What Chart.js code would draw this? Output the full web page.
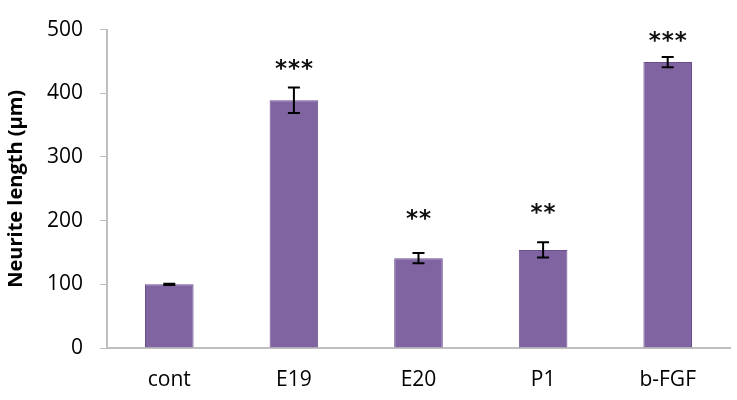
<!DOCTYPE html>
<html>
<head>
<meta charset="utf-8">
<script src="https://cdn.jsdelivr.net/npm/chart.js@4"></script>
<style>
  html, body { margin: 0; padding: 0; background: #fff; }
  #wrap { width: 737px; height: 400px; }
</style>
</head>
<body>
<div id="wrap"><canvas id="grafico"></canvas></div>
<script>
// Dados
const categorias = ["cont", "E19", "E20", "P1", "b-FGF"];
const comprimento = [100, 389, 141, 154, 449];
const erro = [1, 20, 8, 12, 8];
const asteriscos = ["", "***", "**", "**", "***"];
const alturaAsterisco = [0, 443, 207, 216, 486];
const ticksY = [0, 100, 200, 300, 400, 500];

// Barras de erro e asteriscos
const extrasPlugin = {
  id: "extras",
  afterDatasetsDraw(chart) {
    const ctx = chart.ctx;
    const x = chart.scales.x;
    const y = chart.scales.y;
    ctx.save();
    ctx.strokeStyle = "#000";
    ctx.lineWidth = 2;
    comprimento.forEach((v, i) => {
      const cx = x.getPixelForValue(i);
      const top = y.getPixelForValue(v + erro[i]);
      const bot = y.getPixelForValue(v - erro[i]);
      ctx.beginPath();
      ctx.moveTo(cx, top);
      ctx.lineTo(cx, bot);
      ctx.moveTo(cx - 6, top);
      ctx.lineTo(cx + 6, top);
      ctx.moveTo(cx - 6, bot);
      ctx.lineTo(cx + 6, bot);
      ctx.stroke();
    });
    ctx.fillStyle = "#111";
    ctx.font = "bold 23px 'DejaVu Sans'";
    ctx.textAlign = "center";
    ctx.textBaseline = "middle";
    asteriscos.forEach((s, i) => {
      if (!s) return;
      const cx = x.getPixelForValue(i);
      const cy = y.getPixelForValue(alturaAsterisco[i]) + 4;
      const n = s.length;
      for (let k = 0; k < n; k++) {
        ctx.fillText("*", cx + (k - (n - 1) / 2) * 13, cy);
      }
    });
    ctx.restore();
  },
};

new Chart(document.getElementById("grafico").getContext("2d"), {
  type: "bar",
  data: {
    labels: categorias,
    datasets: [
      {
        data: comprimento,
        backgroundColor: "#8064a2",
        borderColor: "#6a4f8f",
        borderWidth: 1,
        categoryPercentage: 1,
        barPercentage: 0.39,
      },
    ],
  },
  options: {
    responsive: true,
    maintainAspectRatio: false,
    animation: false,
    layout: { padding: { top: 19, right: 7, left: 0, bottom: 0 } },
    plugins: {
      legend: { display: false },
      tooltip: { enabled: false },
    },
    scales: {
      x: {
        grid: { display: false, drawTicks: false },
        border: { color: "#bfbfbf", width: 2 },
        ticks: {
          color: "#000",
          font: { family: "'Open Sans'", size: 21 },
          padding: 19,
        },
        afterFit: (s) => { s.height = 52; },
      },
      y: {
        min: 0,
        max: 500,
        afterBuildTicks: (s) => { s.ticks = ticksY.map((v) => ({ value: v })); },
        grid: { drawOnChartArea: false, tickLength: 7, color: "#bfbfbf" },
        border: { color: "#bfbfbf", width: 2 },
        ticks: {
          color: "#000",
          font: { family: "'Open Sans'", size: 21 },
          padding: 17,
        },
        title: {
          display: true,
          text: "Neurite length (µm)",
          color: "#000",
          font: { family: "'Open Sans'", size: 20, weight: "bold" },
          padding: { top: 4, bottom: 0 },
        },
        afterFit: (s) => { s.width = 107; },
      },
    },
  },
  plugins: [extrasPlugin],
});
</script>
</body>
</html>
